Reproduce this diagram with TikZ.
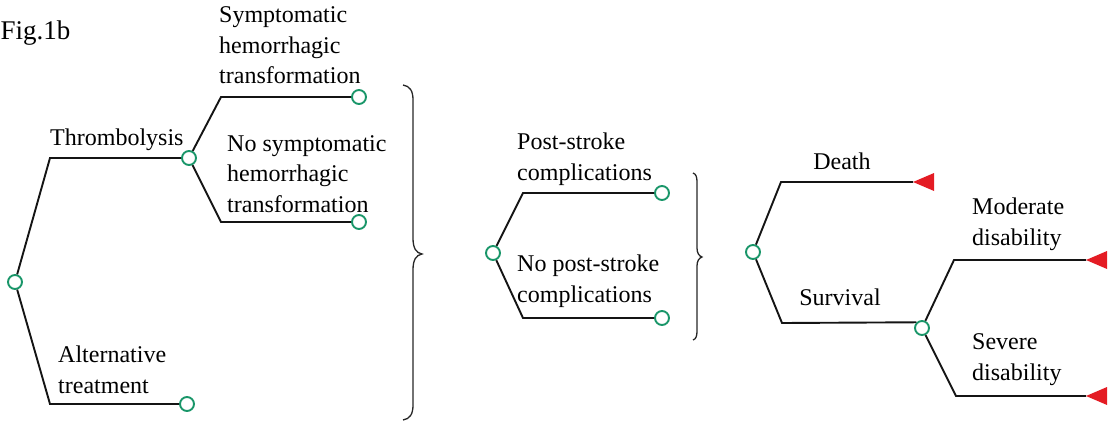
\documentclass[tikz,border=0pt]{standalone}
\usepackage{fontspec}
\setmainfont{Liberation Serif}
\definecolor{chgreen}{RGB}{25,150,105}
\definecolor{trired}{RGB}{228,28,36}
\begin{document}
\begin{tikzpicture}[x=1pt,y=-1pt,
  chance/.style={circle, draw=chgreen, fill=white, line width=1.9pt, inner sep=0pt, minimum size=14pt},
  lbl/.style={font=\fontsize{24}{30.5}\selectfont, inner sep=0pt, align=left},
  branch/.style={draw=black!92, line width=1.9pt},
  bracepath/.style={draw=black!85, line width=1.3pt},
  term/.style={fill=trired}]
\useasboundingbox (0,0) rectangle (1113,425);

% ---------- left tree ----------
\node[chance] (r0) at (15,282) {};
\node[chance] (c1) at (189,158) {};
\node[chance] (c2) at (187,404) {};
\node[chance] (c11) at (359,97) {};
\node[chance] (c12) at (359,222) {};
\coordinate (e1) at (50,158);
\coordinate (e2) at (50,404);
\coordinate (e11) at (221,97);
\coordinate (e12) at (221,222);
\draw[branch] (r0) -- (e1) -- (c1);
\draw[branch] (r0) -- (e2) -- (c2);
\draw[branch] (c1) -- (e11) -- (c11);
\draw[branch] (c1) -- (e12) -- (c12);

\node[lbl, font=\fontsize{27}{33}\selectfont, anchor=base west] (fig) at (0.5,40) {Fig.1b};
\node[lbl, anchor=base west] (lthr) at (50,146) {Thrombolysis};
\node[lbl, anchor=base west] (lalt) at (58,393) {Alternative\\treatment};
\node[lbl, anchor=base west] (lsht) at (219,84) {Symptomatic\\hemorrhagic\\transformation};
\node[lbl, anchor=base west] (lnsht) at (227,212) {No symptomatic\\hemorrhagic\\transformation};

% brace 1
\coordinate (b1t) at (403,85);
\coordinate (b1m) at (422,254);
\coordinate (b1b) at (403,420);
\draw[bracepath] (b1t) .. controls (410,86) and (413,91) .. (413,100) -- (413,238)
  .. controls (413,248) and (416,253) .. (b1m)
  .. controls (416,255) and (413,260) .. (413,270) -- (413,405)
  .. controls (413,414) and (410,419) .. (b1b);

% ---------- middle tree ----------
\node[chance] (m0) at (493,253) {};
\node[chance] (m1) at (662,193) {};
\node[chance] (m2) at (662,318) {};
\coordinate (me1) at (523,193);
\coordinate (me2) at (523,318);
\draw[branch] (m0) -- (me1) -- (m1);
\draw[branch] (m0) -- (me2) -- (m2);
\node[lbl, anchor=base west] (lpsc) at (517,180) {Post-stroke\\complications};
\node[lbl, anchor=base west] (lnpsc) at (517,302) {No post-stroke\\complications};

% brace 2
\coordinate (b2t) at (693,173);
\coordinate (b2m) at (702,257);
\coordinate (b2b) at (693,340);
\draw[bracepath] (b2t) .. controls (696,174) and (697,177) .. (697,182) -- (697,248)
  .. controls (697,253) and (699,256) .. (b2m)
  .. controls (699,258) and (697,261) .. (697,266) -- (697,331)
  .. controls (697,336) and (696,339) .. (b2b);

% ---------- right tree ----------
\node[chance] (d0) at (753,252) {};
\node[chance] (s1) at (922,328) {};
\coordinate (de1) at (781,182);
\coordinate (de2) at (782,323);
\coordinate (t1) at (913,182);
\coordinate (se1) at (954,260);
\coordinate (se2) at (956,396);
\coordinate (t2) at (1086,260);
\coordinate (t3) at (1086,396);
\draw[branch] (d0) -- (de1) -- (t1);
\draw[branch] (d0) -- (de2) -- (s1.134);
\draw[branch] (s1) -- (se1) -- (t2);
\draw[branch] (s1) -- (se2) -- (t3);
\fill[term] (t1) -- ++(21,-9) -- ++(0,18) -- cycle;
\fill[term] (t2) -- ++(21,-9) -- ++(0,18) -- cycle;
\fill[term] (t3) -- ++(21,-9) -- ++(0,18) -- cycle;

\node[lbl, anchor=base] (ldeath) at (842,169) {Death};
\node[lbl, anchor=base] (lsurv) at (840,305) {Survival};
\node[lbl, anchor=base west] (lmod) at (972,245) {Moderate\\disability};
\node[lbl, anchor=base west] (lsev) at (972,380) {Severe\\disability};
\end{tikzpicture}
\end{document}
